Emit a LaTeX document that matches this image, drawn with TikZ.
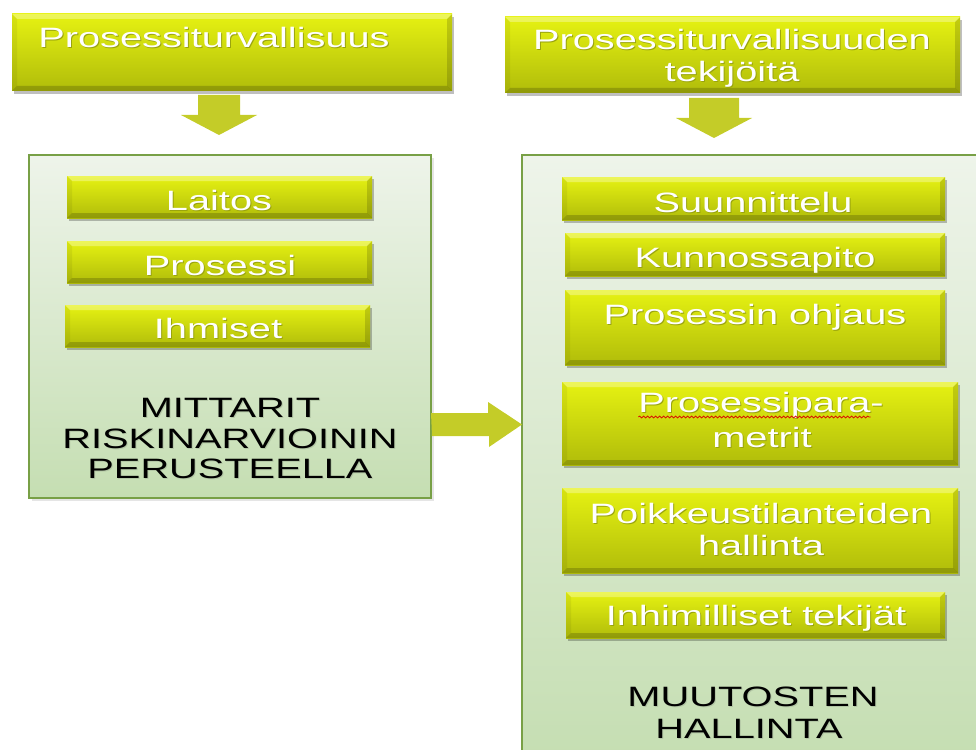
\documentclass[tikz,border=0pt]{standalone}
\usepackage{fontspec}
\newfontfamily\boxfont[FakeStretch=1.42]{Liberation Sans}
\usetikzlibrary{shadows,calc,decorations.pathmorphing}

\definecolor{ytop}{HTML}{E6F212}
\definecolor{ymid}{HTML}{D3DF0C}
\definecolor{ybot}{HTML}{B0BC0A}
\definecolor{ctop}{HTML}{EEF4EA}
\definecolor{cbot}{HTML}{C5DEB2}
\definecolor{cborder}{HTML}{78A046}
\definecolor{arrowcol}{HTML}{C4CC28}
\definecolor{wshade}{HTML}{9AA40E}
\definecolor{bshade}{HTML}{B2C6A4}

% text with a soft offset shadow behind it
\newcommand\shadowtext[2]{\rlap{\kern1pt\raisebox{-1pt}{\textcolor{#1}{#2}}}#2}

\tikzset{
  ybox/.style={rectangle, inner sep=0pt, outer sep=0pt,
    top color=ytop, middle color=ymid, bottom color=ybot,
    drop shadow={shadow xshift=2pt, shadow yshift=-3pt, opacity=.25, fill=black},
    path picture={
      \fill[white,opacity=.30] (path picture bounding box.north west) -- (path picture bounding box.north east)
        -- ([xshift=-5pt,yshift=-5pt]path picture bounding box.north east) -- ([xshift=5pt,yshift=-5pt]path picture bounding box.north west) -- cycle;
      \fill[black,opacity=.18] (path picture bounding box.south west) -- (path picture bounding box.south east)
        -- ([xshift=-5pt,yshift=5pt]path picture bounding box.south east) -- ([xshift=5pt,yshift=5pt]path picture bounding box.south west) -- cycle;
      \fill[black,opacity=.06] (path picture bounding box.north west) -- ([xshift=5pt,yshift=-5pt]path picture bounding box.north west)
        -- ([xshift=5pt,yshift=5pt]path picture bounding box.south west) -- (path picture bounding box.south west) -- cycle;
      \fill[black,opacity=.15] (path picture bounding box.north east) -- ([xshift=-5pt,yshift=-5pt]path picture bounding box.north east)
        -- ([xshift=-5pt,yshift=5pt]path picture bounding box.south east) -- (path picture bounding box.south east) -- cycle;
    }},
  container/.style={rectangle, inner sep=0pt, outer sep=0pt, draw=cborder, line width=1.5pt,
    top color=ctop, bottom color=cbot,
    drop shadow={shadow xshift=3pt, shadow yshift=-3pt, opacity=.10, fill=black}},
  wlabel/.style={anchor=base, inner sep=0pt, outer sep=0pt, text=white,
    font=\boxfont\fontsize{28}{31}\selectfont},
  blabel/.style={anchor=base, inner sep=0pt, outer sep=0pt, text=black,
    font=\boxfont\fontsize{28}{31}\selectfont},
  arrowfill/.style={fill=arrowcol},
}

\begin{document}
\begin{tikzpicture}[x=1pt, y=-1pt]
  \useasboundingbox (0,0) rectangle (976,749);
  \clip (0,0) rectangle (976,749);

  % top boxes
  \node[ybox, minimum width=440pt, minimum height=77pt] (top1) at (232,52.5) {};
  \node[ybox, minimum width=455pt, minimum height=76pt] (top2) at (732.5,55) {};
  \node[wlabel] (t1) at (214,48) {\shadowtext{wshade}{Prosessiturvallisuus}};
  \node[wlabel] (t2a) at (732,50) {\shadowtext{wshade}{Prosessiturvallisuuden}};
  \node[wlabel] (t2b) at (732,82) {\shadowtext{wshade}{tekijöitä}};

  % containers
  \node[container, minimum width=402pt, minimum height=343pt] (left) at (230,326.5) {};
  \node[container, minimum width=468pt, minimum height=607pt] (right) at (756,458.5) {};

  % down arrows
  \coordinate (a1s) at (219,95);
  \coordinate (a1e) at (219,135);
  \fill[arrowfill] (a1s) ++(-21,0) -- ++(42,0) -- ++(0,20) -- ++(17,0) -- (a1e) -- ++(-38,-20) -- ++(17,0) -- cycle;
  \coordinate (a2s) at (714,98);
  \coordinate (a2e) at (714,138);
  \fill[arrowfill] (a2s) ++(-25,0) -- ++(50,0) -- ++(0,20) -- ++(13,0) -- (a2e) -- ++(-38,-20) -- ++(13,0) -- cycle;

  % right arrow between the containers
  \coordinate (a3s) at (left.east |- 0,424.5);
  \coordinate (a3e) at (right.west |- 0,424.5);
  \fill[arrowfill] (a3s) ++(0,-11.5) -- ++(57,0) -- ++(0,-11) -- (a3e) -- ++(-33,22.5) -- ++(0,-11) -- ++(-57,0) -- cycle;

  % left column
  \node[ybox, minimum width=305pt, minimum height=42pt] (laitos) at (219.5,197) {};
  \node[ybox, minimum width=305pt, minimum height=42pt] (prosessi) at (219.5,262) {};
  \node[ybox, minimum width=305pt, minimum height=42pt] (ihmiset) at (217.5,326) {};
  \node[wlabel] (l1) at (219,210) {\shadowtext{wshade}{Laitos}};
  \node[wlabel] (l2) at (220,275) {\shadowtext{wshade}{Prosessi}};
  \node[wlabel] (l3) at (218,338) {\shadowtext{wshade}{Ihmiset}};
  \node[blabel] (m1) at (230,417) {\shadowtext{bshade}{MITTARIT}};
  \node[blabel] (m2) at (230,448) {\shadowtext{bshade}{RISKINARVIOININ}};
  \node[blabel] (m3) at (230,478) {\shadowtext{bshade}{PERUSTEELLA}};

  % right column
  \node[ybox, minimum width=383pt, minimum height=43pt] (suun) at (753.5,198.5) {};
  \node[ybox, minimum width=380pt, minimum height=43pt] (kunn) at (755,254.5) {};
  \node[ybox, minimum width=380pt, minimum height=75pt] (ohj) at (755,327.5) {};
  \node[ybox, minimum width=396pt, minimum height=83pt] (param) at (760,423.5) {};
  \node[ybox, minimum width=396pt, minimum height=85pt] (poik) at (760,530.5) {};
  \node[ybox, minimum width=379pt, minimum height=46pt] (inhim) at (755.5,615) {};

  \node[wlabel] (r1) at (753,212) {\shadowtext{wshade}{Suunnittelu}};
  \node[wlabel] (r2) at (755,267) {\shadowtext{wshade}{Kunnossapito}};
  \node[wlabel] (r3) at (755,324) {\shadowtext{wshade}{Prosessin ohjaus}};
  \node[wlabel] (r4a) at (761,412) {\shadowtext{wshade}{Prosessipara-}};
  \node[wlabel] (r4b) at (762,447) {\shadowtext{wshade}{metrit}};
  \node[wlabel] (r5a) at (761,523) {\shadowtext{wshade}{Poikkeustilanteiden}};
  \node[wlabel] (r5b) at (761,555) {\shadowtext{wshade}{hallinta}};
  \node[wlabel] (r6) at (756,625) {\shadowtext{wshade}{Inhimilliset tekijät}};
  \node[blabel] (h1) at (753,706) {\shadowtext{bshade}{MUUTOSTEN}};
  \node[blabel] (h2) at (749,738) {\shadowtext{bshade}{HALLINTA}};

  % spell-check squiggle under the hyphenated word
  \draw[red!85!black, line width=0.7pt, decorate,
        decoration={snake, segment length=4pt, amplitude=0.9pt}]
    ($(r4a.base west)+(0,5)$) -- ($(r4a.base east)+(-13,5)$);
\end{tikzpicture}
\end{document}
